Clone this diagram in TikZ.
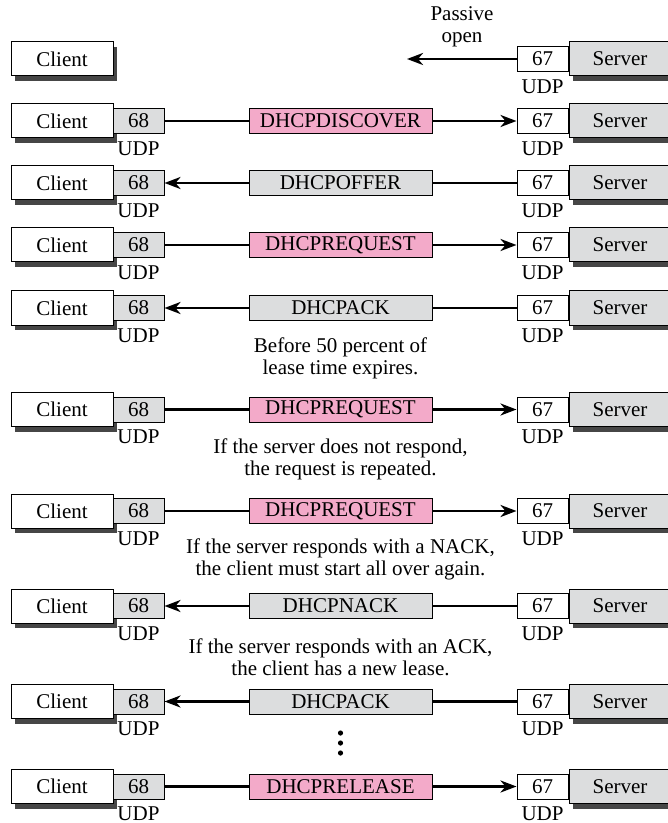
\documentclass[tikz,border=0pt]{standalone}
\usepackage{fontspec}
\setmainfont{Liberation Serif}
\usepackage{tikz}
\usetikzlibrary{arrows.meta,shadows}
\usepackage{xcolor}
\definecolor{msgpink}{RGB}{243,170,201}
\definecolor{boxgray}{RGB}{220,221,222}
\definecolor{shadowgray}{RGB}{70,70,70}

\tikzset{
    host/.style={draw, line width=0.5pt, minimum width=51pt, minimum height=17pt, inner sep=0pt,
        drop shadow={shadow xshift=2pt, shadow yshift=-2.5pt, fill=shadowgray, opacity=1}},
    port/.style={draw, line width=0.5pt, minimum width=25.5pt, minimum height=12.5pt, inner sep=0pt},
    msgbox/.style={draw, line width=0.5pt, minimum width=91.5pt, minimum height=12.5pt, inner sep=0pt},
    link/.style={line width=1.4pt},
    flow/.style={link, -{Stealth[length=8pt, width=6pt, inset=2.5pt]}},
    udp/.style={inner sep=0pt}
}

\begin{document}
\begin{tikzpicture}[x=0.5pt, y=-0.5pt, font=\fontsize{10.5}{11}\selectfont]
    \useasboundingbox (0,0) rectangle (668,823);

    % Passive open
    \node[host, fill=white] (client1) at (62,59) {Client};
    \node[host, fill=boxgray] (server1) at (620,59) {Server};
    \node[port, fill=white] (sport1) at (542.5,59) {67};
    \node[udp] (sudp1) at (542.5,87) {UDP};
    \coordinate (popen) at (407,59);
    \draw[flow] (sport1) -- (popen);
    \node[align=center] (ptext) at (462,27) {Passive\\open};

    % Message exchanges
    \foreach \r/\y/\m/\c/\s/\t in {
        2/121/DHCPDISCOVER/msgpink/cport/sport,
        3/183/DHCPOFFER/boxgray/sport/cport,
        4/245/DHCPREQUEST/msgpink/cport/sport,
        5/308/DHCPACK/boxgray/sport/cport,
        6/409.5/DHCPREQUEST/msgpink/cport/sport,
        7/511/DHCPREQUEST/msgpink/cport/sport,
        8/606/DHCPNACK/boxgray/sport/cport,
        9/701.5/DHCPACK/boxgray/sport/cport,
        10/786.5/DHCPRELEASE/msgpink/cport/sport} {
        \node[host, fill=white] (client\r) at (62,\y) {Client};
        \node[port, fill=boxgray] (cport\r) at (138.5,\y) {68};
        \node[udp] (cudp\r) at (138.5,\y+27.5) {UDP};
        \node[host, fill=boxgray] (server\r) at (620,\y) {Server};
        \node[port, fill=white] (sport\r) at (542.5,\y) {67};
        \node[udp] (sudp\r) at (542.5,\y+27.5) {UDP};
        \node[msgbox, fill=\c] (msg\r) at (340.5,\y) {\m};
        \draw[link] (\s\r) -- (msg\r);
        \draw[flow] (msg\r) -- (\t\r);
    }

    % Notes
    \node[align=center] (note1) at (340.5,358) {Before 50 percent of\\lease time expires.};
    \node[align=center] (note2) at (340.5,459) {If the server does not respond,\\the request is repeated.};
    \node[align=center] (note3) at (340.5,559) {If the server responds with a NACK,\\the client must start all over again.};
    \node[align=center] (note4) at (340.5,657.5) {If the server responds with an ACK,\\the client has a new lease.};

    % Dots
    \foreach \y in {733,743,753} {
        \fill (340.5,\y) circle (1.3pt);
    }
\end{tikzpicture}
\end{document}
